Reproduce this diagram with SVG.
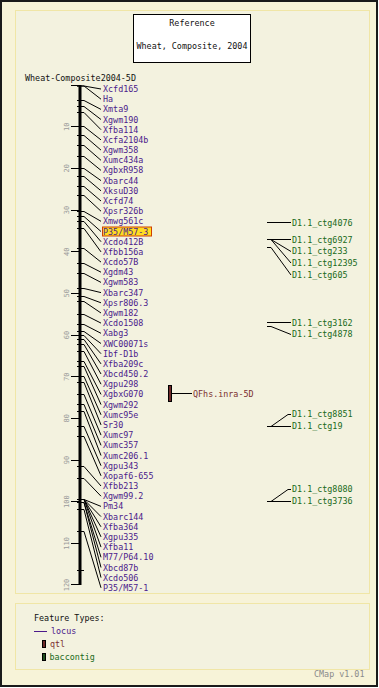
<svg xmlns="http://www.w3.org/2000/svg" width="379" height="688" viewBox="0 0 379 688">
<style>
text{font-family:"DejaVu Sans Mono","Liberation Mono",monospace;font-size:8.4px}
.m{fill:#4b1a8b}
.c{fill:#1a6a1a}
.s{fill:#9a9a9a;font-size:7px}
.k{fill:#111}
.ln line,.ln polyline{stroke:#000;stroke-width:1;fill:none}
</style>
<rect x="0" y="0" width="379" height="688" fill="#fff"/>
<rect x="1" y="1" width="376" height="685" fill="#f7f3d8" stroke="#1a1a1a" stroke-width="2"/>
<rect x="15.5" y="10.5" width="354" height="583" fill="#f3f2df" stroke="#f0e6a6" stroke-width="1"/>
<rect x="15.5" y="603.5" width="354" height="66" fill="#f3f2df" stroke="#f0e6a6" stroke-width="1"/>

<g id="header">
<rect x="133.5" y="14.5" width="117" height="48" fill="#fff" stroke="#000"/>
<text class="k" x="192" y="25.5" text-anchor="middle">Reference</text>
<text class="k" x="192" y="48.5" text-anchor="middle">Wheat, Composite, 2004</text>
</g>

<g id="map-title"><text class="k" x="25" y="80.5">Wheat-Composite2004-5D</text></g>

<g id="axis">
<rect x="78.5" y="85" width="3" height="500" fill="#000"/>
<g class="ln">
<line x1="71" y1="85.5" x2="79" y2="85.5"/>
<line x1="71" y1="126.5" x2="79" y2="126.5"/>
<line x1="71" y1="168.5" x2="79" y2="168.5"/>
<line x1="71" y1="210.5" x2="79" y2="210.5"/>
<line x1="71" y1="251.5" x2="79" y2="251.5"/>
<line x1="71" y1="293.5" x2="79" y2="293.5"/>
<line x1="71" y1="335.5" x2="79" y2="335.5"/>
<line x1="71" y1="376.5" x2="79" y2="376.5"/>
<line x1="71" y1="418.5" x2="79" y2="418.5"/>
<line x1="71" y1="460.5" x2="79" y2="460.5"/>
<line x1="71" y1="501.5" x2="79" y2="501.5"/>
<line x1="71" y1="543.5" x2="79" y2="543.5"/>
<line x1="71" y1="584.5" x2="79" y2="584.5"/>
<line x1="77" y1="570.5" x2="84" y2="570.5"/>
</g>
<text class="s" transform="translate(68.5,126.7) rotate(-90)" text-anchor="middle">10</text>
<text class="s" transform="translate(68.5,168.3) rotate(-90)" text-anchor="middle">20</text>
<text class="s" transform="translate(68.5,210) rotate(-90)" text-anchor="middle">30</text>
<text class="s" transform="translate(68.5,251.7) rotate(-90)" text-anchor="middle">40</text>
<text class="s" transform="translate(68.5,293.3) rotate(-90)" text-anchor="middle">50</text>
<text class="s" transform="translate(68.5,335) rotate(-90)" text-anchor="middle">60</text>
<text class="s" transform="translate(68.5,376.7) rotate(-90)" text-anchor="middle">70</text>
<text class="s" transform="translate(68.5,418.3) rotate(-90)" text-anchor="middle">80</text>
<text class="s" transform="translate(68.5,460) rotate(-90)" text-anchor="middle">90</text>
<text class="s" transform="translate(68.5,501.7) rotate(-90)" text-anchor="middle">100</text>
<text class="s" transform="translate(68.5,543.3) rotate(-90)" text-anchor="middle">110</text>
<text class="s" transform="translate(68.5,585) rotate(-90)" text-anchor="middle">120</text>
</g>

<g id="connectors" class="ln">
<polyline points="77,86 84,86 101,89"/>
<polyline points="77,86 84,86 101,99.2"/>
<polyline points="77,100.5 84,100.5 101,109.4"/>
<polyline points="77,106.5 84,106.5 101,119.5"/>
<polyline points="77,112.5 84,112.5 101,129.7"/>
<polyline points="77,126.5 84,126.5 101,139.9"/>
<polyline points="77,135.5 84,135.5 101,150.1"/>
<polyline points="77,145.5 84,145.5 101,160.3"/>
<polyline points="77,156.5 84,156.5 101,170.4"/>
<polyline points="77,168.5 84,168.5 101,180.6"/>
<polyline points="77,176.5 84,176.5 101,190.8"/>
<polyline points="77,186.5 84,186.5 101,201"/>
<polyline points="77,195.5 84,195.5 101,211.2"/>
<polyline points="77,211.5 84,211.5 101,221.3"/>
<polyline points="77,216.5 84,216.5 101,231.5"/>
<polyline points="77,221.5 84,221.5 101,241.7"/>
<polyline points="77,228.5 84,228.5 101,251.9"/>
<polyline points="77,248.5 84,248.5 101,262.1"/>
<polyline points="77,263.5 84,263.5 101,272.2"/>
<polyline points="77,273.5 84,273.5 101,282.4"/>
<polyline points="77,288.5 84,288.5 101,292.6"/>
<polyline points="77,296.5 84,296.5 101,302.8"/>
<polyline points="77,301.5 84,301.5 101,313"/>
<polyline points="77,314.5 84,314.5 101,323.1"/>
<polyline points="77,324.5 84,324.5 101,333.3"/>
<polyline points="77,331.5 84,331.5 101,343.5"/>
<polyline points="77,335.5 84,335.5 101,353.7"/>
<polyline points="77,339.5 84,339.5 101,363.9"/>
<polyline points="77,344.5 84,344.5 101,374"/>
<polyline points="77,351.5 84,351.5 101,384.2"/>
<polyline points="77,361.5 84,361.5 101,394.4"/>
<polyline points="77,366.5 84,366.5 101,404.6"/>
<polyline points="77,376.5 84,376.5 101,414.8"/>
<polyline points="77,382.5 84,382.5 101,424.9"/>
<polyline points="77,394.5 84,394.5 101,435.1"/>
<polyline points="77,404.5 84,404.5 101,445.3"/>
<polyline points="77,411.5 84,411.5 101,455.5"/>
<polyline points="77,426.5 84,426.5 101,465.7"/>
<polyline points="77,436.5 84,436.5 101,475.8"/>
<polyline points="77,466.5 84,466.5 101,486"/>
<polyline points="77,478.5 84,478.5 101,496.2"/>
<polyline points="77,499.5 84,499.5 101,506.4"/>
<polyline points="77,499.5 84,499.5 101,516.6"/>
<polyline points="77,499.5 84,499.5 101,526.8"/>
<polyline points="77,499.5 84,499.5 101,536.9"/>
<polyline points="77,499.5 84,499.5 101,547.1"/>
<polyline points="77,502.5 84,502.5 101,557.3"/>
<polyline points="77,502.5 84,502.5 101,567.5"/>
<polyline points="77,509.5 84,509.5 101,577.6"/>
<polyline points="77,531.5 84,531.5 101,587.8"/>
<line x1="172" y1="393.5" x2="192" y2="393.5"/>
<line x1="267" y1="222.5" x2="291" y2="222.5"/>
<line x1="267" y1="239.5" x2="291" y2="239.5"/>
<polyline points="271,239.5 291,251.5"/>
<polyline points="271,239.5 291,263"/>
<polyline points="267,247.5 271,247.5 291,275"/>
<line x1="267" y1="322.5" x2="291" y2="322.5"/>
<polyline points="267,326.5 271,326.5 291,334.5"/>
<line x1="267" y1="426.5" x2="291" y2="426.5"/>
<polyline points="271,426.5 288,414.5 291,414.5"/>
<line x1="267" y1="501.5" x2="291" y2="501.5"/>
<polyline points="271,501.5 288,489.5 291,489.5"/>
</g>

<g id="markers">
<rect x="102.5" y="227" width="49" height="9" fill="#ffdd22" stroke="#d04000"/>
<text class="m" x="103" y="92">Xcfd165</text>
<text class="m" x="103" y="102.2">Ha</text>
<text class="m" x="103" y="112.4">Xmta9</text>
<text class="m" x="103" y="122.5">Xgwm190</text>
<text class="m" x="103" y="132.7">Xfba114</text>
<text class="m" x="103" y="142.9">Xcfa2104b</text>
<text class="m" x="103" y="153.1">Xgwm358</text>
<text class="m" x="103" y="163.3">Xumc434a</text>
<text class="m" x="103" y="173.4">XgbxR958</text>
<text class="m" x="103" y="183.6">Xbarc44</text>
<text class="m" x="103" y="193.8">XksuD30</text>
<text class="m" x="103" y="204">Xcfd74</text>
<text class="m" x="103" y="214.2">Xpsr326b</text>
<text class="m" x="103" y="224.3">Xmwg561c</text>
<text class="m" x="103" y="234.5">P35/M57-3</text>
<text class="m" x="103" y="244.7">Xcdo412B</text>
<text class="m" x="103" y="254.9">Xfbb156a</text>
<text class="m" x="103" y="265.1">Xcdo57B</text>
<text class="m" x="103" y="275.2">Xgdm43</text>
<text class="m" x="103" y="285.4">Xgwm583</text>
<text class="m" x="103" y="295.6">Xbarc347</text>
<text class="m" x="103" y="305.8">Xpsr806.3</text>
<text class="m" x="103" y="316">Xgwm182</text>
<text class="m" x="103" y="326.1">Xcdo1508</text>
<text class="m" x="103" y="336.3">Xabg3</text>
<text class="m" x="103" y="346.5">XWC00071s</text>
<text class="m" x="103" y="356.7">Ibf-D1b</text>
<text class="m" x="103" y="366.9">Xfba209c</text>
<text class="m" x="103" y="377">Xbcd450.2</text>
<text class="m" x="103" y="387.2">Xgpu298</text>
<text class="m" x="103" y="397.4">XgbxG070</text>
<text class="m" x="103" y="407.6">Xgwm292</text>
<text class="m" x="103" y="417.8">Xumc95e</text>
<text class="m" x="103" y="427.9">Sr30</text>
<text class="m" x="103" y="438.1">Xumc97</text>
<text class="m" x="103" y="448.3">Xumc357</text>
<text class="m" x="103" y="458.5">Xumc206.1</text>
<text class="m" x="103" y="468.7">Xgpu343</text>
<text class="m" x="103" y="478.8">Xopaf6-655</text>
<text class="m" x="103" y="489">Xfbb213</text>
<text class="m" x="103" y="499.2">Xgwm99.2</text>
<text class="m" x="103" y="509.4">Pm34</text>
<text class="m" x="103" y="519.6">Xbarc144</text>
<text class="m" x="103" y="529.8">Xfba364</text>
<text class="m" x="103" y="539.9">Xgpu335</text>
<text class="m" x="103" y="550.1">Xfba11</text>
<text class="m" x="103" y="560.3">M77/P64.10</text>
<text class="m" x="103" y="570.5">Xbcd87b</text>
<text class="m" x="103" y="580.6">Xcdo506</text>
<text class="m" x="103" y="590.8">P35/M57-1</text>
</g>

<g id="qtl">
<rect x="168.5" y="385.5" width="3" height="16" fill="#6e2a2a" stroke="#000"/>
<text x="193" y="396.5" fill="#7a2e2e">QFhs.inra-5D</text>
</g>

<g id="baccontigs">
<text class="c" x="292" y="225.5">D1.1_ctg4076</text>
<text class="c" x="292" y="242.5">D1.1_ctg6927</text>
<text class="c" x="292" y="254.2">D1.1_ctg233</text>
<text class="c" x="292" y="266">D1.1_ctg12395</text>
<text class="c" x="292" y="278">D1.1_ctg605</text>
<text class="c" x="292" y="325.5">D1.1_ctg3162</text>
<text class="c" x="292" y="337.2">D1.1_ctg4878</text>
<text class="c" x="292" y="417.2">D1.1_ctg8851</text>
<text class="c" x="292" y="429.2">D1.1_ctg19</text>
<text class="c" x="292" y="492.2">D1.1_ctg8080</text>
<text class="c" x="292" y="504.2">D1.1_ctg3736</text>
</g>

<g id="legend">
<text class="k" x="34" y="620.5">Feature Types:</text>
<line x1="34" y1="631.5" x2="47" y2="631.5" stroke="#4b1a8b"/>
<text class="m" x="51" y="634">locus</text>
<rect x="42.5" y="640.5" width="3" height="7" fill="#6e2a2a" stroke="#000"/>
<text x="50" y="647" fill="#7a2e2e">qtl</text>
<rect x="42.5" y="653.5" width="3" height="7" fill="#1e4e1e" stroke="#000"/>
<text class="c" x="49.5" y="660">baccontig</text>
<text x="314" y="677" fill="#8a8a8a">CMap v1.01</text>
</g>
</svg>
